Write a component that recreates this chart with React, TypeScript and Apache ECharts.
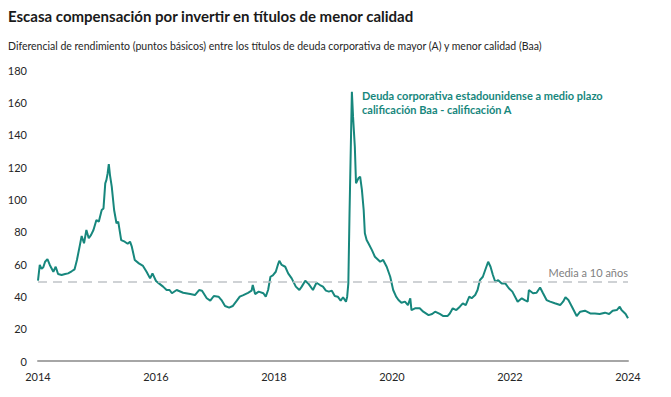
import React, { useEffect, useRef } from "react";
import * as echarts from "echarts";

const TITLE = "Escasa compensación por invertir en títulos de menor calidad";
const SUBTITLE =
  "Diferencial de rendimiento (puntos básicos) entre los títulos de deuda corporativa de mayor (A) y menor calidad (Baa)";
const ANNOTATION_1 = "Deuda corporativa estadounidense a medio plazo";
const ANNOTATION_2 = "calificación Baa - calificación A";
const MEAN_LABEL = "Media a 10 años";
const MEAN_VALUE = 49;

const X_TICKS = [2014, 2016, 2018, 2020, 2022, 2024];

const YEARS = [
  2014.0, 2014.03, 2014.06, 2014.09, 2014.12, 2014.16, 2014.2, 2014.26, 2014.3, 2014.34,
  2014.4, 2014.46, 2014.51, 2014.57, 2014.62, 2014.66, 2014.71, 2014.74, 2014.78, 2014.82,
  2014.86, 2014.9, 2014.94, 2014.99, 2015.03, 2015.08, 2015.11, 2015.14, 2015.16, 2015.18,
  2015.2, 2015.22, 2015.25, 2015.29, 2015.33, 2015.36, 2015.41, 2015.47, 2015.52, 2015.56,
  2015.59, 2015.64, 2015.71, 2015.78, 2015.84, 2015.9, 2015.94, 2016.0, 2016.05, 2016.12,
  2016.18, 2016.23, 2016.27, 2016.35, 2016.46, 2016.58, 2016.66, 2016.73, 2016.78, 2016.86,
  2016.92, 2016.98, 2017.06, 2017.11, 2017.17, 2017.24, 2017.3, 2017.37, 2017.42, 2017.48,
  2017.56, 2017.62, 2017.64, 2017.68, 2017.74, 2017.82, 2017.86, 2017.9, 2017.94, 2017.98,
  2018.03, 2018.07, 2018.09, 2018.13, 2018.19, 2018.24, 2018.3, 2018.37, 2018.43, 2018.47,
  2018.53, 2018.58, 2018.66, 2018.72, 2018.78, 2018.83, 2018.88, 2018.93, 2018.98, 2019.03,
  2019.08, 2019.13, 2019.17, 2019.22, 2019.24, 2019.26, 2019.28, 2019.32, 2019.34, 2019.37,
  2019.39, 2019.43, 2019.46, 2019.49, 2019.52, 2019.54, 2019.57, 2019.6, 2019.66, 2019.71,
  2019.8, 2019.85, 2019.91, 2019.97, 2020.02, 2020.07, 2020.11, 2020.16, 2020.22, 2020.27,
  2020.31, 2020.33, 2020.39, 2020.47, 2020.53, 2020.62, 2020.68, 2020.73, 2020.81, 2020.87,
  2020.94, 2020.98, 2021.03, 2021.09, 2021.15, 2021.2, 2021.25, 2021.31, 2021.35, 2021.41,
  2021.45, 2021.49, 2021.54, 2021.58, 2021.63, 2021.67, 2021.71, 2021.75, 2021.8, 2021.86,
  2021.92, 2021.98, 2022.04, 2022.13, 2022.2, 2022.25, 2022.3, 2022.32, 2022.39, 2022.45,
  2022.51, 2022.56, 2022.62, 2022.68, 2022.76, 2022.85, 2022.9, 2022.94, 2022.99, 2023.05,
  2023.13, 2023.19, 2023.27, 2023.36, 2023.44, 2023.52, 2023.61, 2023.68, 2023.74, 2023.81,
  2023.86, 2023.89, 2023.96, 2024.0,
];

const SPREAD = [
  49.7, 59.4, 57, 58, 61.4, 63, 59.4, 55.2, 58.3, 53.8,
  53.2, 53.8, 54.2, 55.5, 56.7, 62.5, 71.7, 77.3, 72.8, 81,
  75.9, 78, 81, 87.2, 86.2, 93.4, 94.4, 109.9, 112, 116,
  121.8, 115, 107.8, 93.4, 85.2, 86.2, 74.8, 73.8, 72.5, 73.8,
  70.7, 62.5, 60.4, 58.8, 55.2, 51.1, 54.2, 49.5, 48, 46,
  43.9, 43.9, 41.9, 43.9, 42.2, 41.4, 40.8, 43.9, 43.5, 38.8,
  37.3, 40.2, 39.8, 37.7, 34, 33, 34, 37.3, 39.8, 40.8,
  42.2, 43.5, 47, 41.4, 42.9, 41.9, 39.8, 43.9, 52.1, 53,
  55.2, 60, 62, 59.4, 58.3, 54.2, 51.1, 46, 43.9, 46,
  49.7, 48, 43.9, 48.4, 47, 46, 43.5, 42.9, 43.5, 40.2,
  39.8, 37.3, 39.4, 36.7, 39.8, 48, 91.3, 166.5, 151, 132.5,
  109.9, 113, 114, 105.8, 93.4, 79, 74.8, 72.8, 68.6, 64.5,
  61.4, 62.5, 58.3, 52.1, 43.9, 39.8, 37.7, 36, 36.7, 34.6,
  38.8, 31.5, 32.6, 32.6, 30.5, 28.4, 29.1, 30.5, 29.1, 27.8,
  27.8, 29.4, 32.6, 31.5, 33.6, 35.7, 34.6, 39.8, 38.8, 40.8,
  43.9, 50, 52.1, 56.3, 61.4, 58.3, 53.2, 49, 50, 48,
  48, 45, 42.9, 36.7, 38.8, 37.7, 36.7, 43.9, 41.9, 42.2,
  45.5, 41.9, 37.7, 36.7, 35.7, 34.6, 36.7, 39.4, 37.7, 33.6,
  27.8, 30.5, 31.1, 29.4, 29.4, 29.1, 29.9, 29.1, 31.1, 31.5,
  33.6, 31.5, 29.1, 26.4,
];

const TEAL = "#17877d";
const FONT = "Lato, 'Noto Sans', sans-serif";

export default function App() {
  const ref = useRef<HTMLDivElement>(null);

  useEffect(() => {
    document.body.style.margin = "0";
    if (!ref.current) return;
    const chart = echarts.init(ref.current, undefined, { renderer: "svg" });
    const data = YEARS.map((y, i) => [y, SPREAD[i]]);
    chart.setOption({
      animation: false,
      backgroundColor: "#ffffff",
      textStyle: { fontFamily: FONT },
      grid: { left: 38, right: 43, top: 70, bottom: 36 },
      xAxis: {
        type: "value",
        min: X_TICKS[0],
        max: X_TICKS[X_TICKS.length - 1],
        interval: 2,
        axisLine: { show: true, lineStyle: { color: "#a6a6a6", width: 2 } },
        axisTick: { show: false },
        splitLine: { show: false },
        axisLabel: {
          color: "#262626",
          fontSize: 11,
          margin: 10,
          fontFamily: FONT,
          formatter: (v: number) => String(v),
        },
      },
      yAxis: {
        type: "value",
        min: 0,
        max: 180,
        interval: 20,
        axisLine: { show: false },
        axisTick: { show: false },
        splitLine: { show: false },
        axisLabel: { color: "#262626", fontSize: 11, margin: 11, fontFamily: FONT },
      },
      series: [
        {
          type: "line",
          data,
          showSymbol: false,
          symbol: "none",
          lineStyle: { color: TEAL, width: 2 },
          markLine: {
            silent: true,
            symbol: "none",
            data: [{ yAxis: MEAN_VALUE }],
            lineStyle: { color: "#c0c4c8", type: [9, 6], width: 1.5 },
            label: {
              show: true,
              position: "insideEndTop",
              formatter: MEAN_LABEL,
              color: "#7f7f7f",
              fontSize: 11,
              fontFamily: FONT,
              distance: [0, 4],
            },
          },
        },
      ],
      graphic: [
        {
          type: "text",
          left: 8,
          top: 8,
          style: { text: TITLE, fill: "#1a1a1a", font: `bold 15px ${FONT}` },
        },
        {
          type: "text",
          left: 8,
          top: 40,
          style: { text: SUBTITLE, fill: "#262626", font: `10.5px ${FONT}` },
        },
        {
          type: "text",
          left: 362,
          top: 88,
          style: {
            text: ANNOTATION_1 + "\n" + ANNOTATION_2,
            fill: TEAL,
            font: `bold 11px ${FONT}`,
            lineHeight: 14,
          },
        },
      ],
    });
    return () => chart.dispose();
  }, []);

  return <div ref={ref} style={{ width: 671, height: 397 }} />;
}
